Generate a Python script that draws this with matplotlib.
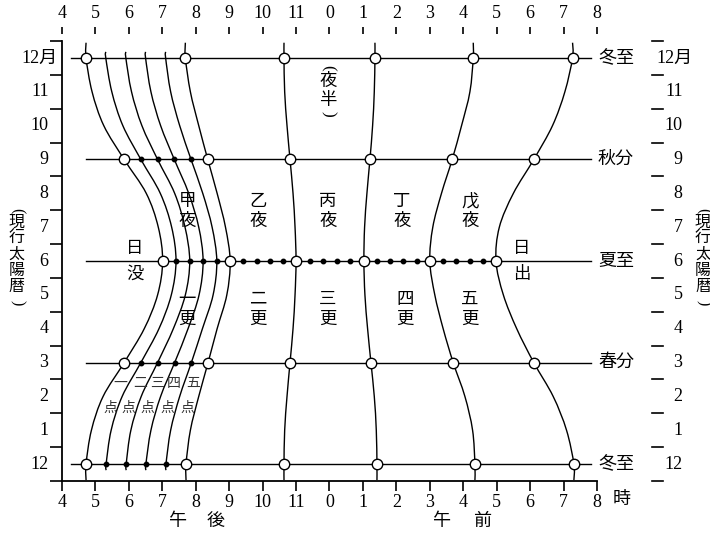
import matplotlib
matplotlib.use('Agg')
import matplotlib.pyplot as plt
from matplotlib.path import Path
from matplotlib.patches import PathPatch
import numpy as np

plt.rcParams['font.family'] = ['Liberation Serif', 'Noto Sans CJK JP']

# month rows: 0 = lower 冬至 ... 12 = upper 冬至
months = list(range(13))
month_labels = ['12', '1', '2', '3', '4', '5', '6', '7', '8', '9', '10', '11', '12月']
hours = list(range(16, 33))
hour_labels = ['4', '5', '6', '7', '8', '9', '10', '11', '0', '1', '2', '3', '4', '5', '6', '7', '8']
season_rows = [0, 3, 6, 9, 12]
season_names = ['冬至', '春分', '夏至', '秋分', '冬至']

# clock time (hours after noon of the day before) of each boundary, per month row
sunset   = [16.72, 16.88, 17.23, 17.86, 18.46, 18.86, 19.01, 18.88, 18.52, 17.86, 17.25, 16.90, 16.72]
ten_1    = [17.32, 17.47, 17.80, 18.36, 18.90, 19.27, 19.41, 19.28, 18.94, 18.36, 17.82, 17.49, 17.31]
ten_2    = [17.92, 18.06, 18.37, 18.86, 19.33, 19.69, 19.82, 19.68, 19.37, 18.86, 18.39, 18.08, 17.91]
ten_3    = [18.51, 18.66, 18.95, 19.37, 19.77, 20.10, 20.22, 20.09, 19.79, 19.36, 18.95, 18.66, 18.50]
ten_4    = [19.11, 19.25, 19.52, 19.87, 20.20, 20.52, 20.63, 20.49, 20.21, 19.86, 19.52, 19.25, 19.10]
kou_end  = [19.71, 19.84, 20.09, 20.37, 20.64, 20.93, 21.03, 20.89, 20.64, 20.36, 20.09, 19.84, 19.69]
otsu_end = [22.64, 22.66, 22.73, 22.82, 22.91, 22.97, 23.00, 22.97, 22.91, 22.82, 22.73, 22.66, 22.64]
hei_end  = [25.42, 25.40, 25.34, 25.24, 25.14, 25.06, 25.03, 25.05, 25.12, 25.21, 25.29, 25.34, 25.36]
tei_end  = [28.35, 28.28, 28.05, 27.70, 27.40, 27.15, 27.00, 27.09, 27.35, 27.67, 27.95, 28.20, 28.30]
sunrise  = [31.31, 31.09, 30.69, 30.11, 29.60, 29.20, 28.98, 29.08, 29.50, 30.11, 30.67, 31.04, 31.27]

main_curves = [sunset, kou_end, otsu_end, hei_end, tei_end, sunrise]
ten_curves = [ten_1, ten_2, ten_3, ten_4]

watch_names = [('甲', '一'), ('乙', '二'), ('丙', '三'), ('丁', '四'), ('戊', '五')]
watch_x = [19.74, 21.86, 23.95, 26.17, 28.20]
ten_names = ['一', '二', '三', '四', '五']
ten_num_x = [17.73, 18.33, 18.84, 19.35, 19.92]
ten_word_x = [17.44, 18.00, 18.54, 19.14, 19.74]


def smooth_path(xs, ys):
    # Catmull-Rom through the points, as cubic bezier pieces
    pts = np.column_stack([xs, ys])
    verts = [pts[0]]
    codes = [Path.MOVETO]
    n = len(pts)
    for i in range(n - 1):
        p0 = pts[i - 1] if i > 0 else pts[i]
        p1, p2 = pts[i], pts[i + 1]
        p3 = pts[i + 2] if i + 2 < n else pts[i + 1]
        verts += [p1 + (p2 - p0) / 6, p2 - (p3 - p1) / 6, p2]
        codes += [Path.CURVE4] * 3
    return Path(verts, codes)


def vcol(x, chars, ys, size):
    # one character per row; brackets turned for vertical writing
    for ch, y in zip(chars, ys):
        rot = -90 if ch in '()' else 0
        ax.text(x, y, ch, ha='center', va='center', rotation=rot,
                fontsize=size, clip_on=False)


fig = plt.figure(figsize=(7.1, 5.35), dpi=100)
ax = fig.add_axes([0.0873, 0.1009, 0.7535, 0.8224])
ax.set_xlim(16, 32)
ax.set_ylim(-0.5, 12.5)

# season lines
line_start = [16.27, 16.72, 16.72, 16.72, 16.27]
for row, start, name in zip(season_rows, line_start, season_names):
    ax.plot([start, 31.82], [row, row], color='black', lw=1.0, clip_on=False, zorder=2)
    ax.text(32.03, row, name, ha='left', va='center', fontsize=13, clip_on=False)

# boundary curves
for xs in main_curves:
    path = smooth_path([xs[0]] + xs + [xs[-1]], [-0.47] + months + [12.45])
    ax.add_patch(PathPatch(path, fill=False, color='black', lw=1.0, clip_on=False, zorder=3))
for xs in ten_curves:
    path = smooth_path([xs[0]] + xs + [xs[-1]], [-0.18] + months + [12.18])
    ax.add_patch(PathPatch(path, fill=False, color='black', lw=1.0, clip_on=False, zorder=3))

# small dots: 点 crossings, and the fifths of each watch at 夏至
for xs in ten_curves:
    ax.plot([xs[r] for r in season_rows[:4]], season_rows[:4], 'o', color='black',
            ms=3.2, zorder=4)
for a, b in zip(main_curves[1:-1], main_curves[2:]):
    ax.plot(np.linspace(a[6], b[6], 6)[1:-1], [6] * 4, 'o', color='black', ms=3.2, zorder=4)

# open circles on the season lines
for xs in main_curves:
    ax.plot([xs[r] for r in season_rows], season_rows, 'o', mfc='white', mec='black',
            ms=7.5, mew=1.0, zorder=5, clip_on=False)

# axes
for side in ['top', 'right']:
    ax.spines[side].set_visible(False)
ax.spines['left'].set_linewidth(1.3)
ax.spines['bottom'].set_linewidth(1.3)
ax.set_xticks(hours)
ax.set_xticklabels(hour_labels, fontsize=13)
ax.tick_params(axis='x', direction='out', length=7, width=1.2, pad=2.5)
ax.set_yticks(np.arange(-0.5, 13, 1))
ax.set_yticklabels([])
ax.tick_params(axis='y', direction='out', length=8.6, width=1.2)

top = ax.secondary_xaxis(1.016)
top.set_xticks(hours)
top.set_xticklabels(hour_labels, fontsize=13)
top.tick_params(direction='out', length=5.4, width=1.2, pad=3)
for s in top.spines.values():
    s.set_visible(False)

# month labels both sides
for row, lab in zip(months, month_labels):
    if lab == '12月':
        ax.text(15.88, row, lab, ha='right', va='center', fontsize=13, clip_on=False)
        ax.text(33.79, row, lab, ha='left', va='center', fontsize=13, clip_on=False)
    else:
        ax.text(15.60, row, lab, ha='right', va='center', fontsize=13, clip_on=False)
        ax.text(34.56, row, lab, ha='right', va='center', fontsize=13, clip_on=False)
for row in np.arange(-0.5, 13, 1):
    ax.plot([33.64, 33.97], [row, row], color='black', lw=1.2, clip_on=False)

# side captions
caption = '(現行太陽暦)'
caption_y = [7.48, 7.12, 6.64, 6.18, 5.71, 5.24, 4.78]
vcol(14.65, caption, caption_y, 11.5)
vcol(35.17, caption, caption_y, 11.5)

# region labels
vcol(23.95, '(夜半)', [11.72, 11.29, 10.74, 10.36], 12.5)
for x, (top_ch, low_ch) in zip(watch_x, watch_names):
    vcol(x, top_ch + '夜', [7.74, 7.15], 12.5)
    vcol(x + (0.09 if low_ch == '四' else 0), low_ch + '更', [4.85, 4.26], 12.5)
vcol(18.18, '日没', [6.36, 5.59], 12.5)
vcol(29.76, '日出', [6.36, 5.59], 12.5)
for x, ch in zip(ten_num_x, ten_names):
    ax.text(x, 2.39, ch, ha='center', va='center', fontsize=10, color='#333333')
for x in ten_word_x:
    ax.text(x, 1.66, '点', ha='center', va='center', fontsize=10, color='#333333')

ax.text(32.75, -1.06, '時', ha='center', va='center', fontsize=13, clip_on=False)
ax.text(19.47, -1.71, '午', ha='center', va='center', fontsize=13, clip_on=False)
ax.text(20.58, -1.71, '後', ha='center', va='center', fontsize=13, clip_on=False)
ax.text(27.36, -1.71, '午', ha='center', va='center', fontsize=13, clip_on=False)
ax.text(28.56, -1.71, '前', ha='center', va='center', fontsize=13, clip_on=False)

fig.savefig('out.png', dpi=100, facecolor='white')
